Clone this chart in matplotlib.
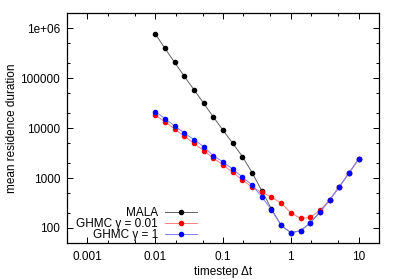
import numpy as np
import matplotlib
matplotlib.use("Agg")
import matplotlib.pyplot as plt
from matplotlib.ticker import FixedLocator, LogLocator, NullFormatter

# timestep values (same grid for all runs)
dt = [0.01, 0.0139, 0.0193, 0.0268, 0.0373, 0.0518, 0.0720, 0.1, 0.139, 0.193, 0.268,
      0.373, 0.518, 0.720, 1.0, 1.39, 1.93, 2.68, 3.73, 5.18, 7.20, 10.0]

mala = [780000, 398000, 209000, 110000, 59000, 31600, 16800, 9100, 5000, 2700, 1290,
        557, 240, 113, 80.5, 88, 126, 209, 363, 670, 1260, 2400]
ghmc_001 = [18500, 13400, 9700, 6900, 4950, 3560, 2510, 1845, 1295, 912, 660,
            515, 417, 316, 202, 156, 163, 225, 363, 670, 1260, 2400]
ghmc_1 = [21500, 15600, 11100, 8050, 5900, 4290, 2790, 2120, 1510, 1050, 725,
          423, 229, 113, 80.5, 88, 126, 209, 363, 670, 1260, 2400]

xticks = [0.001, 0.01, 0.1, 1, 10]
xticklabels = ['0.001', '0.01', '0.1', '1', '10']
yticks = [100, 1000, 10000, 100000, 1000000]
yticklabels = ['100', '1000', '10000', '100000', '1e+06']

plt.rcParams['font.family'] = ['Liberation Sans', 'DejaVu Sans']
plt.rcParams['font.size'] = 8

fig = plt.figure(figsize=(3.99, 2.79), dpi=100)
ax = fig.add_axes([0.168, 0.129, 0.782, 0.823])

ax.plot(dt, mala, '-', color='#606060', lw=0.7, marker='o', ms=3,
        mfc='black', mec='black', label='MALA')
ax.plot(dt, ghmc_001, '-', color='#ff8080', lw=0.7, marker='o', ms=3,
        mfc='red', mec='red', label='GHMC γ = 0.01')
ax.plot(dt, ghmc_1, '-', color='#8080ff', lw=0.7, marker='o', ms=3,
        mfc='blue', mec='blue', label='GHMC γ = 1')

ax.set_xscale('log')
ax.set_yscale('log')
ax.set_xlim(0.0005, 20)
ax.set_ylim(50, 2e6)

ax.xaxis.set_major_locator(FixedLocator(xticks))
ax.set_xticklabels(xticklabels)
ax.yaxis.set_major_locator(FixedLocator(yticks))
ax.set_yticklabels(yticklabels)
ax.xaxis.set_minor_locator(LogLocator(base=10, subs=(2, 5)))
ax.yaxis.set_minor_locator(LogLocator(base=10, subs=(2, 5)))
ax.xaxis.set_minor_formatter(NullFormatter())
ax.yaxis.set_minor_formatter(NullFormatter())

ax.tick_params(which='both', direction='in', top=True, right=True, width=0.7)
ax.tick_params(which='major', length=4, labelsize=8.5)
ax.tick_params(which='minor', length=2)
ax.tick_params(axis='y', which='major', pad=5)
ax.tick_params(axis='x', which='major', pad=6)
for s in ax.spines.values():
    s.set_linewidth(0.9)

ax.set_xlabel('timestep Δt', fontsize=8.5, labelpad=2)
ax.set_ylabel('mean residence duration', fontsize=8.5, labelpad=2)

ax.legend(loc='lower right', bbox_to_anchor=(0.417, 0.01), markerfirst=False,
          frameon=False, fontsize=8.5, handlelength=2.7, handletextpad=0.6,
          labelspacing=-0.1, borderpad=0, borderaxespad=0)

plt.savefig('out.png', dpi=100)
